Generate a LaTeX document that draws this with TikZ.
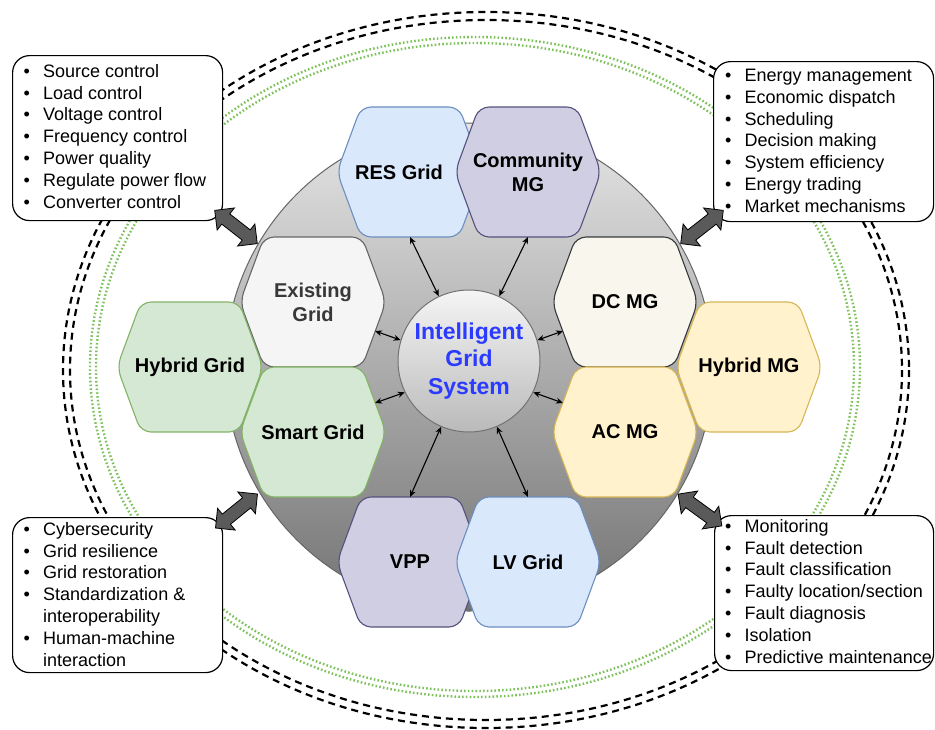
\documentclass[tikz,border=0pt]{standalone}
\usepackage{fontspec}
\setmainfont{Liberation Sans}
\usetikzlibrary{arrows.meta,calc}

\definecolor{blueF}{HTML}{DAE8FC}\definecolor{blueD}{HTML}{6C8EBF}
\definecolor{purF}{HTML}{D0CEE2}\definecolor{purD}{HTML}{56517E}
\definecolor{greF}{HTML}{D5E8D4}\definecolor{greD}{HTML}{82B366}
\definecolor{yelF}{HTML}{FFF2CC}\definecolor{yelD}{HTML}{D6B656}
\definecolor{gryF}{HTML}{F5F5F5}\definecolor{gryD}{HTML}{666666}
\definecolor{dcF}{HTML}{F9F7ED}\definecolor{dcD}{HTML}{36393D}
\definecolor{ringgreen}{HTML}{7CC15A}
\definecolor{coreblue}{HTML}{2B3BFF}
\definecolor{arrgray}{HTML}{5A5A5A}

\newcommand\bul{\makebox[19.5pt][l]{\textbullet}}
\newcommand\ind{\hspace*{19.5pt}}

% hexagon: [label shift], name, centre, fill, border, text colour, label
\newcommand\hexagon[7][0pt]{%
  \coordinate (#2) at #3;
  \filldraw[hexline,fill=#4,draw=#5]
    ($(#2)+(-73,0)$) -- ($(#2)+(-49,-65)$) -- ($(#2)+(49,-65)$) --
    ($(#2)+(73,0)$) -- ($(#2)+(49,65)$) -- ($(#2)+(-49,65)$) -- cycle;
  \node[hexlabel,text=#6,xshift=#1] (#2-t) at (#2) {#7};
  \coordinate (#2-n) at ($(#2)+(0,-65)$);
  \coordinate (#2-s) at ($(#2)+(0,65)$);
  \coordinate (#2-ru) at ($(#2)+(62,-29)$);
  \coordinate (#2-rl) at ($(#2)+(62,29)$);
  \coordinate (#2-lu) at ($(#2)+(-62,-29)$);
  \coordinate (#2-ll) at ($(#2)+(-62,29)$);
}

% broad two-headed arrow: name, centre, angle
\newcommand\fatarrow[3]{%
  \coordinate (#1) at #2;
  \filldraw[fatarr] [shift={(#1)},rotate=#3]
    (-27,0) -- (-13,-14) -- (-13,-6.5) -- (13,-6.5) -- (13,-14) -- (27,0) --
    (13,14) -- (13,6.5) -- (-13,6.5) -- (-13,14) -- cycle;
}

\begin{document}
\begin{tikzpicture}[x=1pt,y=-1pt,
  >={Stealth[length=7pt,width=6pt]},
  ringdash/.style={line width=2.2pt,dash pattern=on 7pt off 5pt},
  ringdot/.style={ringgreen,line width=2.4pt,dash pattern=on 1.6pt off 2.2pt},
  hexline/.style={rounded corners=10pt,line width=1.1pt},
  hexlabel/.style={inner sep=0pt,align=center,
    font=\fontsize{20}{24}\selectfont\bfseries},
  link/.style={<->,line width=1.1pt},
  infobox/.style={draw,fill=white,rounded corners=17pt,line width=1.2pt,
    anchor=north west,inner sep=0pt},
  listtext/.style={anchor=north west,inner sep=0pt,align=left,
    font=\fontsize{18}{21.8}\selectfont},
  fatarr/.style={draw=black,fill=arrgray,line width=0.8pt,line join=miter}]
\useasboundingbox (0,0) rectangle (935,729);

% outer rings
\draw[ringdash] (486,370) ellipse [x radius=423,y radius=358];
\draw[ringdash] (486,370) ellipse [x radius=416,y radius=350];
\draw[ringdot] (475,367) ellipse [x radius=385,y radius=330];
\draw[ringdot] (475,367) ellipse [x radius=379,y radius=324];

% base disc
\shade[top color=black!10,bottom color=black!55,draw=black!60,line width=1pt]
  (469,367) circle [radius=244];

% feature boxes
\node[infobox,minimum width=210pt,minimum height=165pt] (ctrl) at (12,55) {};
\node[listtext] (ctrl-t) at (23.5,64) {\bul Source control\\\bul Load control\\
  \bul Voltage control\\\bul Frequency control\\\bul Power quality\\
  \bul Regulate power flow\\\bul Converter control};

\node[infobox,minimum width=220pt,minimum height=160pt] (mgmt) at (713,61) {};
\node[listtext] (mgmt-t) at (725,69) {\bul Energy management\\\bul Economic dispatch\\
  \bul Scheduling\\\bul Decision making\\\bul System efficiency\\
  \bul Energy trading\\\bul Market mechanisms};

\node[infobox,minimum width=210pt,minimum height=155pt] (sec) at (12,517) {};
\node[listtext] (sec-t) at (23.5,522) {\bul Cybersecurity\\\bul Grid resilience\\
  \bul Grid restoration\\\bul Standardization \&\\\ind interoperability\\
  \bul Human-machine\\\ind interaction};

\node[infobox,minimum width=219pt,minimum height=155pt] (flt) at (714,515) {};
\node[listtext] (flt-t) at (725,519) {\bul Monitoring\\\bul Fault detection\\
  \bul Fault classification\\\bul Faulty location/section\\\bul Fault diagnosis\\
  \bul Isolation\\\bul Predictive maintenance};

% grid hexagons
\hexagon[-11pt]{res}{(410,172)}{blueF}{blueD}{black}{RES Grid}
\hexagon{cmg}{(528,172)}{purF}{purD}{black}{Community\\MG}
\hexagon{exg}{(313,302)}{gryF}{gryD}{black!78}{Existing\\Grid}
\hexagon{smg}{(313,432)}{greF}{greD}{black}{Smart Grid}
\hexagon{dcm}{(625,302)}{dcF}{dcD}{black}{DC MG}
\hexagon{acm}{(625,432)}{yelF}{yelD}{black}{AC MG}
\hexagon{hyg}{(190,367)}{greF}{greD}{black}{Hybrid Grid}
\hexagon{hym}{(749,367)}{yelF}{yelD}{black}{Hybrid MG}
\hexagon{vpp}{(410,562)}{purF}{purD}{black}{VPP}
\hexagon{lvg}{(528,562)}{blueF}{blueD}{black}{LV Grid}

% core
\node[circle,minimum size=142pt,inner sep=0pt,top color=black!4,bottom color=black!27,
  draw=black!55,line width=1pt,align=center,text=coreblue,
  font=\fontsize{23}{27.6}\selectfont\bfseries] (igs) at (469,361)
  {Intelligent\\Grid\\System};

% links between core and grids
\draw[link] (igs.115) -- (res-s);
\draw[link] (igs.65) -- (cmg-s);
\draw[link] (igs.163) -- (exg-rl);
\draw[link] (igs.206) -- (smg-ru);
\draw[link] (igs.17) -- (dcm-ll);
\draw[link] (igs.334) -- (acm-lu);
\draw[link] (igs.247) -- (vpp-n);
\draw[link] (igs.293) -- (lvg-n);

% broad arrows between boxes and the disc
\fatarrow{a-ctrl}{(236,227)}{-38}
\fatarrow{a-mgmt}{(702,227)}{38}
\fatarrow{a-sec}{(236.5,511)}{39}
\fatarrow{a-flt}{(700,510)}{-36}
\end{tikzpicture}
\end{document}
